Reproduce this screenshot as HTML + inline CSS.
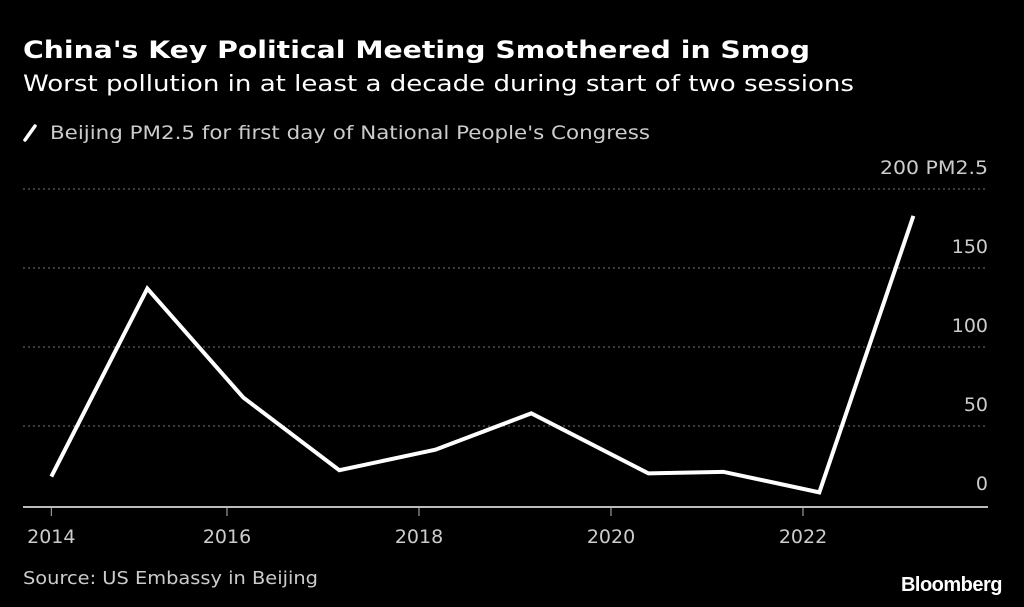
<!DOCTYPE html>
<html><head><meta charset="utf-8"><style>
html,body{margin:0;padding:0;background:#000;}
svg{display:block;font-family:"DejaVu Sans","Liberation Sans",sans-serif;}
</style></head><body>
<svg id="chart" width="1024" height="607" viewBox="0 0 1024 607" xmlns="http://www.w3.org/2000/svg">
<rect width="1024" height="607" fill="#000"/>
<text x="23" y="58" fill="#fff" font-size="24" font-weight="bold" textLength="787" lengthAdjust="spacingAndGlyphs">China's Key Political Meeting Smothered in Smog</text>
<text x="23" y="91" fill="#fff" font-size="22" textLength="831" lengthAdjust="spacingAndGlyphs">Worst pollution in at least a decade during start of two sessions</text>
<g>
<line x1="25" y1="140" x2="35" y2="126" stroke="#fff" stroke-width="3.5" stroke-linecap="round"/>
<text x="50" y="139" fill="#ccc" font-size="19" textLength="600" lengthAdjust="spacingAndGlyphs">Beijing PM2.5 for first day of National People's Congress</text>
</g>
<g id="grid"></g>
<g id="xaxis"></g>
<g id="series"></g>
<text x="23" y="584" fill="#ccc" font-size="18" textLength="295" lengthAdjust="spacingAndGlyphs">Source: US Embassy in Beijing</text>
<text x="1002" y="591" fill="#fff" font-size="20" font-weight="bold" text-anchor="end" font-family="Liberation Sans, sans-serif" letter-spacing="-0.5">Bloomberg</text>
</svg>
<script>
const years = [2014.17, 2015.17, 2016.17, 2017.17, 2018.17, 2019.17, 2020.39, 2021.17, 2022.17, 2023.15];
const pm25 = [18, 137, 68, 22, 35, 58, 20, 21, 8, 183];
const yTicks = [0, 50, 100, 150, 200];
const xTickValues = [2014.17, 2016, 2018, 2020, 2022];
const xTickLabels = ["2014", "2016", "2018", "2020", "2022"];

const NS = "http://www.w3.org/2000/svg";
const xs = t => 227 + (t - 2016) * 96;
const ys = v => 505 - v * 1.58;
function mk(tag, attrs, parent){const e=document.createElementNS(NS,tag);for(const k in attrs)e.setAttribute(k,attrs[k]);parent.appendChild(e);return e;}

const grid = document.getElementById('grid');
yTicks.forEach(v=>{
  if(v>0){
    const l = mk('line',{x1:23,x2:988,y1:ys(v),y2:ys(v),stroke:'#777','stroke-width':1,'stroke-dasharray':'2,3'},grid);
    
    
  }
  const label = v===200 ? '200 PM2.5' : String(v);
  const attrs = {x:988,y:ys(v)-15,fill:'#ccc','font-size':19,'text-anchor':'end'};
  if(v===200){attrs.textLength=108;attrs.lengthAdjust='spacingAndGlyphs';}
  const t = mk('text',attrs,grid);
  t.textContent = label;
  
  
});

const xa = document.getElementById('xaxis');
const ax = mk('line',{x1:23,x2:988,y1:507,y2:507,stroke:'#bbb','stroke-width':2},xa);


xTickValues.forEach((v,i)=>{
  const tk = mk('line',{x1:xs(v),x2:xs(v),y1:507,y2:516,stroke:'#bbb','stroke-width':1},xa);
  
  
  const t = mk('text',{x:xs(v),y:543,fill:'#ccc','font-size':19,'text-anchor':'middle'},xa);
  t.textContent = xTickLabels[i];
  
  
});

const s = document.getElementById('series');
const pts = years.map((t,i)=>xs(t)+','+ys(pm25[i])).join(' ');
const line = mk('polyline',{points:pts,fill:'none',stroke:'#fff','stroke-width':4,'stroke-linejoin':'miter','stroke-linecap':'butt'},s);


</script>
</body></html>
